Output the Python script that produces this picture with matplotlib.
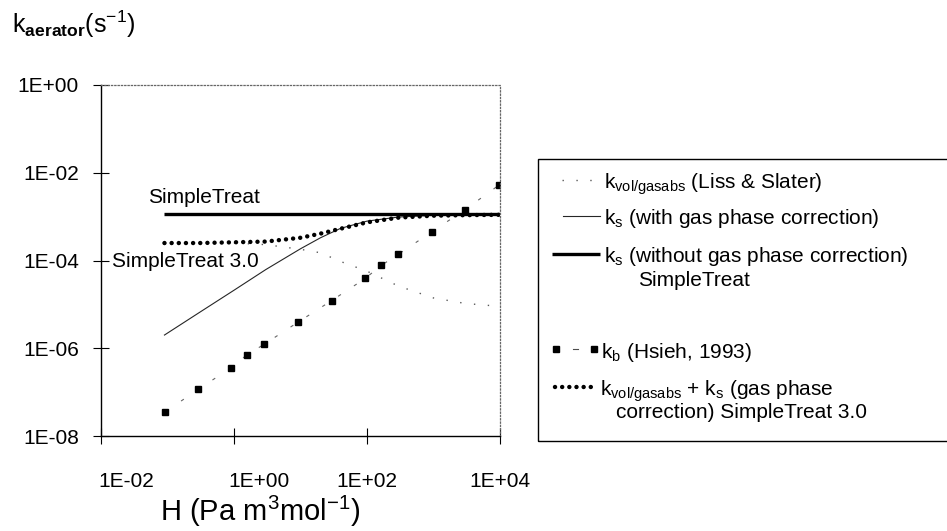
import math
import matplotlib
matplotlib.use("Agg")
import matplotlib.pyplot as plt
from matplotlib.lines import Line2D
from matplotlib.patches import Rectangle
from matplotlib.transforms import ScaledTranslation

plt.rcParams['font.family'] = ['Liberation Sans', 'DejaVu Sans']
plt.rcParams['mathtext.fontset'] = 'custom'
plt.rcParams['mathtext.rm'] = 'Liberation Sans'
plt.rcParams['mathtext.it'] = 'Liberation Sans:italic'
plt.rcParams['mathtext.bf'] = 'Liberation Sans:bold'

# Henry coefficient grid used by the model curves (Pa m3/mol)
H = [0.09, 0.3, 1, 3, 10, 20, 40, 100, 300, 1000, 3000, 10000]
k_liss = [2.5e-4, 2.5e-4, 2.5e-4, 2.3e-4, 1.8e-4, 1.5e-4, 9.5e-5, 5.7e-5, 2.6e-5, 1.4e-5, 1.05e-5, 9e-6]
k_s_gas = [2.0e-6, 6.5e-6, 2.1e-5, 6.2e-5, 1.85e-4, 3.3e-4, 5.4e-4, 7.9e-4, 9.8e-4, 1.07e-3, 1.1e-3, 1.12e-3]
k_sum = [2.5e-4, 2.5e-4, 2.6e-4, 2.7e-4, 3.3e-4, 4.1e-4, 5.3e-4, 7.4e-4, 9.5e-4, 1.05e-3, 1.08e-3, 1.1e-3]

H_flat = [0.09, 10000]
k_s_nogas = [1.17e-3, 1.17e-3]

H_hsieh = [0.093, 0.29, 0.9, 1.57, 2.84, 9.1, 29.4, 94, 163, 295, 940, 3000, 9600]
k_hsieh = [3.6e-8, 1.15e-7, 3.6e-7, 7.1e-7, 1.23e-6, 3.9e-6, 1.22e-5, 3.9e-5,
           7.7e-5, 1.38e-4, 4.5e-4, 1.45e-3, 5.2e-3]

xticks = [1e-2, 1e0, 1e2, 1e4]
yticks = [1e-8, 1e-6, 1e-4, 1e-2, 1e0]


def sci(v):
    return f"1E{int(round(math.log10(v))):+03d}"


W, Hpx = 947, 531
fig = plt.figure(figsize=(W / 100, Hpx / 100), dpi=100)
ax = fig.add_axes([101 / W, 1 - 436 / Hpx, 399 / W, 351 / Hpx])

ax.plot(H, k_liss, color='0.35', lw=1.0, ls=(0, (1, 9)))
ax.plot(H, k_s_gas, color='0.15', lw=0.8)
ax.plot(H_hsieh, k_hsieh, color='0.4', lw=0.8, ls=(0, (3, 14)),
        marker='s', ms=4.5, mfc='black', mec='black')
ax.plot(H, k_sum, color='black', lw=3.2, ls=(0, (0.01, 1.6)),
        dash_capstyle='round')
ax.plot(H_flat, k_s_nogas, color='black', lw=2.4, solid_capstyle='butt')

ax.set_xscale('log')
ax.set_yscale('log')
ax.set_xlim(1e-2, 1e4)
ax.set_ylim(1e-8, 1e0)
ax.set_xticks(xticks, [sci(v) for v in xticks])
ax.set_yticks(yticks, [sci(v) for v in yticks])
ax.minorticks_off()
ax.tick_params(direction='inout', length=12, width=0.8, labelsize=15, colors='black')
ax.tick_params(axis='x', pad=20)
ax.tick_params(axis='y', pad=10)

# first two x labels sit right of their ticks in the original
for lab in ax.get_xticklabels()[:2]:
    lab.set_transform(lab.get_transform() + ScaledTranslation(0.25, 0, fig.dpi_scale_trans))

for s in ['left', 'bottom']:
    ax.spines[s].set_linewidth(1.0)
    ax.spines[s].set_color('black')
for s in ['top', 'right']:
    ax.spines[s].set_linestyle(':')
    ax.spines[s].set_linewidth(0.9)
    ax.spines[s].set_color('0.4')

ax.text(0.0508, 2.05e-3, "SimpleTreat", fontsize=15, va='baseline', ha='left')
ax.text(0.0146, 7.1e-5, "SimpleTreat 3.0", fontsize=15, va='baseline', ha='left')

fig.text(12 / W, 1 - 33 / Hpx, r"k$_{\mathbf{aerator}}$(s$^{-1}$)", fontsize=18,
         va='baseline', ha='left')
fig.text(260 / W, 1 - 521 / Hpx, r"H (Pa m$^{3}$mol$^{-1}$)", fontsize=21,
         va='baseline', ha='center')

# legend box (its right edge runs off the figure)
fig.add_artist(Rectangle((538 / W, 1 - 441 / Hpx), 0.6, (441 - 159) / Hpx,
                         transform=fig.transFigure, fill=False, ec='black', lw=1.0))


def fy(py):
    return 1 - py / Hpx


def fx(px):
    return px / W


rows = [180, 216, 254, 278, 349, 387, 410]
fig.add_artist(Line2D([fx(562), fx(601)], [fy(rows[0])] * 2, transform=fig.transFigure,
                      color='0.35', lw=1.0, ls=(0, (1, 9))))
fig.add_artist(Line2D([fx(563), fx(600)], [fy(rows[1])] * 2, transform=fig.transFigure,
                      color='0.15', lw=0.8))
fig.add_artist(Line2D([fx(552), fx(600)], [fy(rows[2])] * 2, transform=fig.transFigure,
                      color='black', lw=2.4, solid_capstyle='butt'))
fig.add_artist(Line2D([fx(556), fx(594)], [fy(rows[4])] * 2, transform=fig.transFigure,
                      color='black', lw=0, marker='s', ms=4.5))
fig.add_artist(Line2D([fx(573), fx(578)], [fy(rows[4])] * 2, transform=fig.transFigure,
                      color='0.3', lw=0.8))
fig.add_artist(Line2D([fx(555), fx(596)], [fy(rows[5])] * 2, transform=fig.transFigure,
                      color='black', lw=3.2, ls=(0, (0.01, 1.6)), dash_capstyle='round'))

lfs = 15
fig.text(fx(604), fy(rows[0]), r"k$_{\mathrm{vol/gasabs}}$ (Liss & Slater)", fontsize=lfs, va='center_baseline')
fig.text(fx(604), fy(rows[1]), r"k$_{\mathrm{s}}$ (with gas phase correction)", fontsize=lfs, va='center_baseline')
fig.text(fx(604), fy(rows[2]), r"k$_{\mathrm{s}}$ (without gas phase correction)", fontsize=lfs, va='center_baseline')
fig.text(fx(638), fy(rows[3]), "SimpleTreat", fontsize=lfs, va='center_baseline')
fig.text(fx(601), fy(rows[4]), r"k$_{\mathrm{b}}$ (Hsieh, 1993)", fontsize=lfs, va='center_baseline')
fig.text(fx(600), fy(rows[5]), r"k$_{\mathrm{vol/gasabs}}$ + k$_{\mathrm{s}}$ (gas phase", fontsize=lfs, va='center_baseline')
fig.text(fx(616), fy(rows[6]), "correction) SimpleTreat 3.0", fontsize=lfs, va='center_baseline')

fig.savefig("out.png", dpi=100)
